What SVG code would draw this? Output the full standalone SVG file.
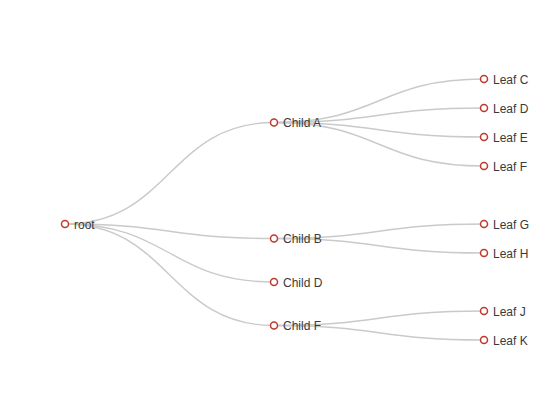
<svg xmlns="http://www.w3.org/2000/svg" width="550" height="420" viewBox="0 0 550 420">
<style>
.link{fill:none;stroke:#cacaca;stroke-width:1.4}
.node circle{fill:#fff;stroke:#c0392b;stroke-width:1.5}
.node text{font-family:"Liberation Sans",Arial,sans-serif;font-size:12px;fill:#3a3a3a}
</style>
<rect width="550" height="420" fill="#fff"/>
<g id="links">
<path class="link" d="M65,224C169.5,224 169.5,122.5 274,122.5"/>
<path class="link" d="M65,224C169.5,224 169.5,238.5 274,238.5"/>
<path class="link" d="M65,224C169.5,224 169.5,282 274,282"/>
<path class="link" d="M65,224C169.5,224 169.5,325.5 274,325.5"/>
<path class="link" d="M274,122.5C379,122.5 379,79 484,79"/>
<path class="link" d="M274,122.5C379,122.5 379,108 484,108"/>
<path class="link" d="M274,122.5C379,122.5 379,137 484,137"/>
<path class="link" d="M274,122.5C379,122.5 379,166 484,166"/>
<path class="link" d="M274,238.5C379,238.5 379,224 484,224"/>
<path class="link" d="M274,238.5C379,238.5 379,253 484,253"/>
<path class="link" d="M274,325.5C379,325.5 379,311 484,311"/>
<path class="link" d="M274,325.5C379,325.5 379,340 484,340"/>
</g>
<g id="root" class="node"><circle cx="65" cy="224" r="3.5"/><text x="74" y="228.5">root</text></g>
<g id="childA" class="node"><circle cx="274" cy="122.5" r="3.5"/><text x="283" y="127">Child A</text></g>
<g id="childB" class="node"><circle cx="274" cy="238.5" r="3.5"/><text x="283" y="243">Child B</text></g>
<g id="childD" class="node"><circle cx="274" cy="282" r="3.5"/><text x="283" y="286.5">Child D</text></g>
<g id="childF" class="node"><circle cx="274" cy="325.5" r="3.5"/><text x="283" y="330">Child F</text></g>
<g id="leafC" class="node"><circle cx="484" cy="79" r="3.5"/><text x="493" y="83.5">Leaf C</text></g>
<g id="leafD" class="node"><circle cx="484" cy="108" r="3.5"/><text x="493" y="112.5">Leaf D</text></g>
<g id="leafE" class="node"><circle cx="484" cy="137" r="3.5"/><text x="493" y="141.5">Leaf E</text></g>
<g id="leafF" class="node"><circle cx="484" cy="166" r="3.5"/><text x="493" y="170.5">Leaf F</text></g>
<g id="leafG" class="node"><circle cx="484" cy="224" r="3.5"/><text x="493" y="228.5">Leaf G</text></g>
<g id="leafH" class="node"><circle cx="484" cy="253" r="3.5"/><text x="493" y="257.5">Leaf H</text></g>
<g id="leafJ" class="node"><circle cx="484" cy="311" r="3.5"/><text x="493" y="315.5">Leaf J</text></g>
<g id="leafK" class="node"><circle cx="484" cy="340" r="3.5"/><text x="493" y="344.5">Leaf K</text></g>
</svg>
